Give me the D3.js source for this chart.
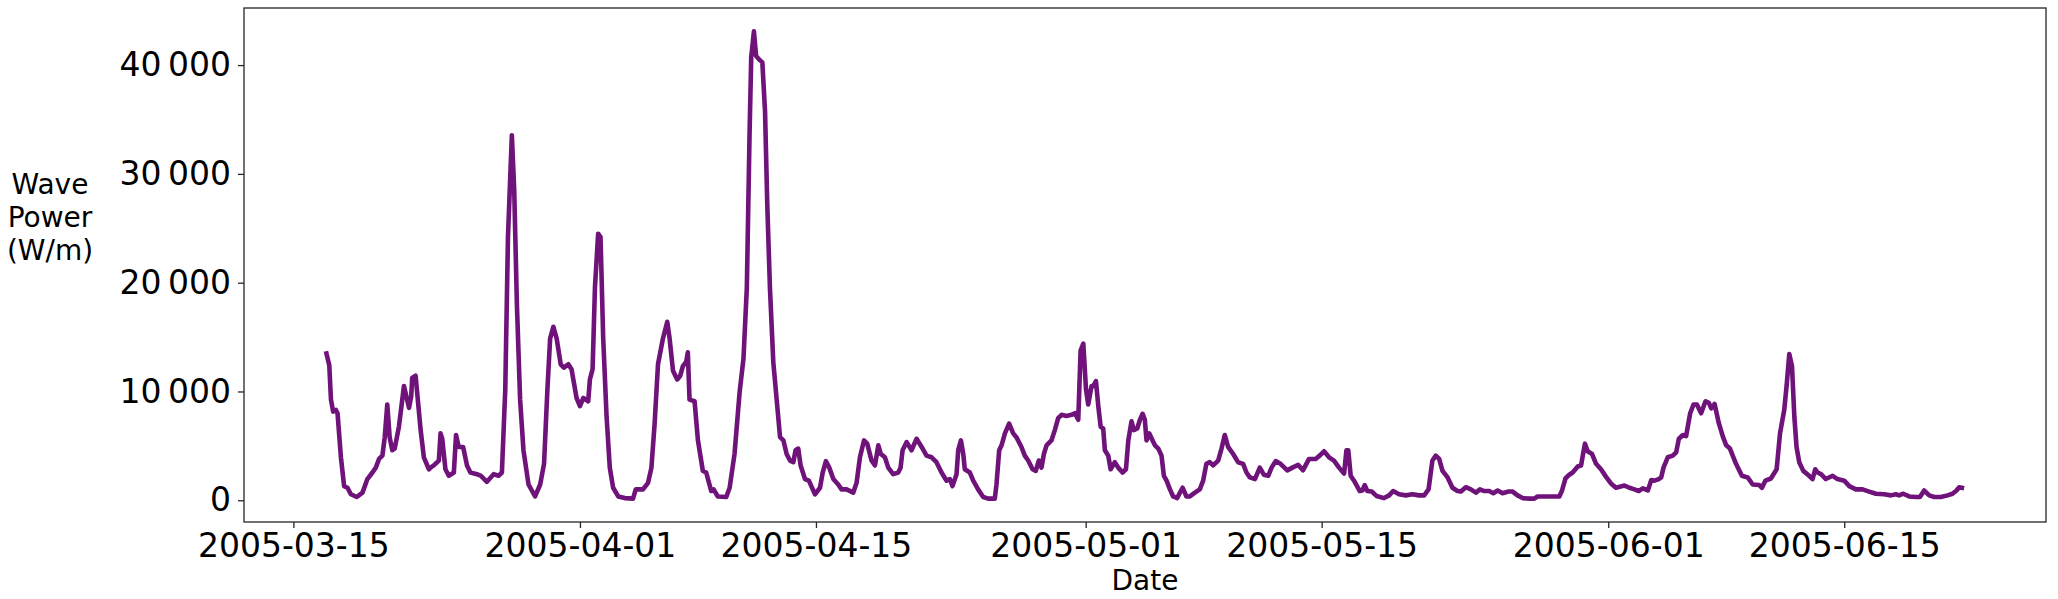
<!DOCTYPE html>
<html>
<head>
<meta charset="utf-8">
<script src="https://cdnjs.cloudflare.com/ajax/libs/d3/7.8.5/d3.min.js"></script>
<style>
  body { margin: 0; background: #fff; }
  #svgcontainer { width: 2058px; height: 599px; }
  text { font-family: "DejaVu Sans", sans-serif; fill: #000; }
</style>
</head>
<body>
<div id="svgcontainer"></div>
<script>
// time of each reading, in days after 2005-02-28 00:00 (17.0 = 2005-03-17 00:00)
var dayZero = "2005-02-28";
var days = [
  16.93, 17.13, 17.23, 17.36, 17.52, 17.62, 17.82, 18.01, 18.21, 18.41, 18.76, 19.10, 19.39, 19.69, 19.89,
  20.08, 20.28, 20.42, 20.57, 20.71, 20.87, 21.01, 21.26, 21.56, 21.86, 21.99, 22.05, 22.25, 22.55, 22.74,
  23.04, 23.14, 23.33, 23.63, 23.73, 23.83, 24.02, 24.22, 24.52, 24.65, 24.81, 25.07, 25.30, 25.50, 25.89,
  26.13, 26.48, 26.88, 27.17, 27.37, 27.57, 27.73, 27.96, 28.10, 28.26, 28.45, 28.65, 28.95, 29.34, 29.64,
  29.87, 30.07, 30.23, 30.42, 30.62, 30.86, 31.05, 31.31, 31.50, 31.80, 32.00, 32.20, 32.49, 32.59, 32.75,
  32.89, 33.08, 33.22, 33.38, 33.58, 33.77, 33.97, 34.27, 34.66, 35.15, 35.31, 35.55, 35.74, 36.04, 36.24,
  36.43, 36.63, 36.92, 37.18, 37.32, 37.52, 37.77, 37.95, 38.11, 38.30, 38.40, 38.50, 38.80, 39.00, 39.29,
  39.49, 39.79, 39.93, 40.18, 40.68, 40.88, 41.17, 41.47, 41.70, 41.90, 42.06, 42.16, 42.32, 42.45, 42.61,
  42.82, 42.98, 43.11, 43.27, 43.47, 43.67, 43.87, 44.07, 44.26, 44.46, 44.66, 44.79, 44.95, 45.09, 45.35,
  45.58, 45.94, 46.24, 46.40, 46.59, 46.79, 47.03, 47.32, 47.52, 47.82, 48.21, 48.41, 48.61, 48.85, 49.04,
  49.30, 49.50, 49.70, 49.85, 50.09, 50.29, 50.58, 50.88, 51.02, 51.14, 51.38, 51.67, 51.97, 52.27, 52.56,
  52.86, 53.15, 53.45, 53.75, 53.94, 54.10, 54.34, 54.44, 54.60, 54.74, 54.83, 55.13, 55.33, 55.62, 55.92,
  56.22, 56.61, 56.71, 56.87, 57.01, 57.21, 57.46, 57.70, 57.89, 58.19, 58.39, 58.59, 58.85, 59.04, 59.22,
  59.38, 59.52, 59.68, 59.97, 60.17, 60.37, 60.57, 60.86, 61.16, 61.36, 61.56, 61.70, 61.86, 62.02, 62.15,
  62.35, 62.45, 62.61, 62.75, 62.89, 63.04, 63.14, 63.34, 63.48, 63.73, 63.93, 64.19, 64.39, 64.53, 64.72,
  64.86, 65.06, 65.22, 65.38, 65.51, 65.61, 65.77, 65.97, 66.11, 66.31, 66.50, 66.64, 66.80, 67.00, 67.19,
  67.43, 67.59, 67.75, 67.98, 68.18, 68.48, 68.77, 68.97, 69.16, 69.36, 69.56, 69.86, 70.06, 70.25, 70.45,
  70.75, 71.04, 71.34, 71.54, 71.74, 72.04, 72.33, 72.57, 72.83, 73.03, 73.27, 73.56, 73.96, 74.26, 74.61,
  74.89, 75.25, 75.64, 75.88, 76.14, 76.44, 76.73, 77.03, 77.33, 77.47, 77.58, 77.72, 77.92, 78.26, 78.42,
  78.55, 78.71, 78.97, 79.25, 79.70, 80.00, 80.24, 80.59, 80.99, 81.39, 81.78, 82.08, 82.34, 82.57, 82.77,
  82.97, 83.17, 83.47, 83.76, 84.06, 84.26, 84.55, 84.85, 85.15, 85.39, 85.64, 85.94, 86.18, 86.44, 86.73,
  87.09, 87.33, 87.62, 87.92, 88.32, 88.61, 88.81, 89.21, 89.60, 90.10, 90.26, 90.46, 90.69, 90.89, 91.19,
  91.39, 91.49, 91.62, 91.78, 92.04, 92.28, 92.57, 92.87, 93.16, 93.46, 93.96, 94.26, 94.55, 94.81, 95.05,
  95.35, 95.55, 95.74, 96.00, 96.14, 96.28, 96.53, 96.83, 97.03, 97.19, 97.43, 97.62, 97.86, 98.06, 98.26,
  98.51, 98.77, 98.97, 99.11, 99.31, 99.55, 99.80, 100.00, 100.22, 100.58, 100.93, 101.27, 101.57, 101.96, 102.12,
  102.32, 102.65, 102.99, 103.19, 103.44, 103.58, 103.74, 103.90, 104.04, 104.17, 104.33, 104.57, 104.92, 105.12, 105.28,
  105.42, 105.62, 105.91, 106.31, 106.60, 107.00, 107.30, 107.69, 108.09, 108.48, 108.88, 109.37, 109.77, 110.06, 110.26,
  110.50, 110.85, 111.25, 111.49, 111.74, 112.04, 112.34, 112.73, 113.13, 113.42, 113.66, 113.82, 114.11
];
var power = [
  13700, 12400, 9250, 8150, 8300, 8000, 3950, 1300, 1150, 550, 300, 700, 1950, 2550, 3000,
  3800, 4100, 5800, 8800, 5800, 4600, 4750, 6750, 10500, 8500, 9550, 11250, 11450, 6450, 3950,
  2850, 3000, 3200, 3650, 6150, 5650, 2850, 2250, 2550, 6000, 4900, 4900, 3200, 2550, 2400,
  2250, 1700, 2400, 2250, 2550, 10200, 24200, 33550, 28550, 18000, 9250, 4600, 1450, 350, 1450,
  3350, 10200, 14850, 15950, 14850, 12500, 12200, 12500, 12050, 9400, 8650, 9400, 9100, 11100, 12050,
  19550, 24500, 24200, 14850, 7700, 3000, 1150, 350, 200, 150, 1000, 1000, 1000, 1600, 3000,
  7050, 12500, 14850, 16400, 14850, 11900, 11100, 11450, 12350, 12700, 13600, 9250, 9100, 5500, 2700,
  2550, 850, 1000, 350, 300, 1150, 4250, 9900, 13000, 19550, 33550, 40700, 43100, 40850, 40550,
  40250, 35750, 27300, 19550, 12700, 9250, 5800, 5500, 4250, 3650, 3500, 4600, 4750, 3200, 1950,
  1800, 550, 1150, 2550, 3600, 3000, 1950, 1450, 1000, 1000, 700, 1600, 3950, 5500, 5200,
  3650, 3200, 5050, 4250, 3950, 3000, 2400, 2550, 3000, 4600, 5350, 4600, 5650, 4900, 4100,
  3950, 3500, 2550, 1800, 1950, 1300, 2400, 4600, 5500, 4250, 2850, 2550, 1800, 1000, 300,
  150, 150, 1450, 4600, 5050, 6150, 7050, 6150, 5800, 4900, 4100, 3650, 2850, 2700, 3650,
  3000, 4250, 5050, 5500, 6450, 7550, 7850, 7750, 7850, 8000, 7400, 13750, 14400, 10200, 8800,
  10500, 10500, 10950, 8650, 6750, 6600, 4600, 4100, 2850, 3500, 3000, 2550, 2850, 5500, 7250,
  6450, 6600, 7400, 7950, 7400, 5500, 6150, 5500, 5050, 4750, 4100, 2250, 1800, 1000, 350,
  200, 700, 1150, 350, 350, 700, 1000, 1800, 3350, 3500, 3200, 3650, 4750, 6000, 4900,
  4250, 3500, 3350, 2550, 2100, 1950, 3000, 2350, 2250, 3000, 3600, 3350, 2750, 3000, 3250,
  2750, 3800, 3800, 4100, 4500, 3950, 3650, 3000, 2450, 4600, 4600, 2250, 1800, 850, 900,
  1400, 850, 800, 400, 200, 450, 850, 550, 450, 550, 450, 450, 1000, 3650, 4100,
  3800, 2700, 2100, 1150, 850, 800, 1200, 1000, 700, 1000, 850, 850, 650, 900, 650,
  800, 800, 450, 200, 150, 150, 350, 350, 350, 350, 900, 2000, 2350, 2550, 3100,
  3200, 4100, 5200, 4500, 4250, 3350, 2850, 2150, 1550, 1150, 1350, 1150, 1000, 850, 1100,
  900, 1850, 1800, 1950, 2100, 3000, 3950, 4100, 4400, 5650, 6000, 5900, 8000, 8800, 8800,
  8000, 9100, 8950, 8450, 8850, 7150, 5850, 5050, 4750, 3350, 2250, 2100, 1450, 1400, 1150,
  1800, 2000, 2850, 6150, 8300, 10500, 13450, 12350, 7700, 4900, 3500, 2700, 2250, 1950, 2850,
  2550, 2400, 1950, 2250, 1950, 1800, 1300, 1000, 1000, 800, 600, 550, 450, 550, 450,
  600, 350, 300, 300, 900, 450, 300, 300, 450, 600, 900, 1200, 1100
];
var xTickLabels = ["2005-03-15", "2005-04-01", "2005-04-15", "2005-05-01", "2005-05-15", "2005-06-01", "2005-06-15"];
var yTickValues = [0, 10000, 20000, 30000, 40000];
var yLabelLines = ["Wave", "Power", "(W/m)"];
var xLabelText = "Date";

var width = 2058;
var height = 599;
var margin = {top: 8, right: 12, bottom: 77, left: 244};
var lineColor = "#6f1279";
var axisColor = "#262626";

var parseDay = d3.utcParse("%Y-%m-%d");
var t0 = parseDay(dayZero).getTime();
var data = days.map(function(d, i) {
  return {date: new Date(t0 + d * 864e5), power: power[i]};
});

// matplotlib style 5% padding on both axes
var xExt = d3.extent(data, function(d) { return d.date.getTime(); });
var xPad = (xExt[1] - xExt[0]) * 0.05;
var yExt = d3.extent(data, function(d) { return d.power; });
var yPad = (yExt[1] - yExt[0]) * 0.05;

var x = d3.scaleUtc()
  .domain([new Date(xExt[0] - xPad), new Date(xExt[1] + xPad)])
  .range([margin.left, width - margin.right]);
var y = d3.scaleLinear()
  .domain([yExt[0] - yPad, yExt[1] + yPad])
  .range([height - margin.bottom, margin.top]);

var svg = d3.select("#svgcontainer")
  .append("svg")
  .attr("width", width)
  .attr("height", height);

svg.append("rect")
  .attr("width", width)
  .attr("height", height)
  .attr("fill", "#fff");

var numFmt = d3.format(",");

var xAxis = d3.axisBottom(x)
  .tickValues(xTickLabels.map(parseDay))
  .tickFormat(d3.utcFormat("%Y-%m-%d"))
  .tickSizeInner(6)
  .tickSizeOuter(0)
  .tickPadding(6);

var yAxis = d3.axisLeft(y)
  .tickValues(yTickValues)
  .tickFormat(function(d) { return numFmt(d).replace(/,/g, "\u2009"); })
  .tickSizeInner(6)
  .tickSizeOuter(0)
  .tickPadding(7);

var gx = svg.append("g")
  .attr("transform", "translate(0," + (height - margin.bottom) + ")")
  .call(xAxis);
var gy = svg.append("g")
  .attr("transform", "translate(" + margin.left + ",0)")
  .call(yAxis);

[gx, gy].forEach(function(g) {
  g.select(".domain").remove();
  g.selectAll(".tick line").attr("stroke", axisColor).attr("stroke-width", 1.3);
  g.selectAll(".tick text")
    .attr("font-family", "DejaVu Sans, sans-serif")
    .attr("font-size", 33)
    .attr("fill", "#000");
});

var line = d3.line()
  .x(function(d) { return x(d.date); })
  .y(function(d) { return y(d.power); });

svg.append("path")
  .datum(data)
  .attr("d", line)
  .attr("fill", "none")
  .attr("stroke", lineColor)
  .attr("stroke-width", 4.6)
  .attr("stroke-linejoin", "round")
  .attr("stroke-linecap", "butt");

// axes frame
svg.append("rect")
  .attr("x", margin.left)
  .attr("y", margin.top)
  .attr("width", width - margin.left - margin.right)
  .attr("height", height - margin.top - margin.bottom)
  .attr("fill", "none")
  .attr("stroke", axisColor)
  .attr("stroke-width", 1.3);

svg.append("text")
  .attr("x", (margin.left + width - margin.right) / 2)
  .attr("y", 590)
  .attr("text-anchor", "middle")
  .attr("font-size", 28)
  .text(xLabelText);

svg.append("text")
  .attr("text-anchor", "middle")
  .attr("font-size", 28)
  .selectAll("tspan")
  .data(yLabelLines)
  .enter()
  .append("tspan")
  .attr("x", 50)
  .attr("y", function(d, i) { return 194 + i * 33; })
  .text(function(d) { return d; });
</script>
</body>
</html>
